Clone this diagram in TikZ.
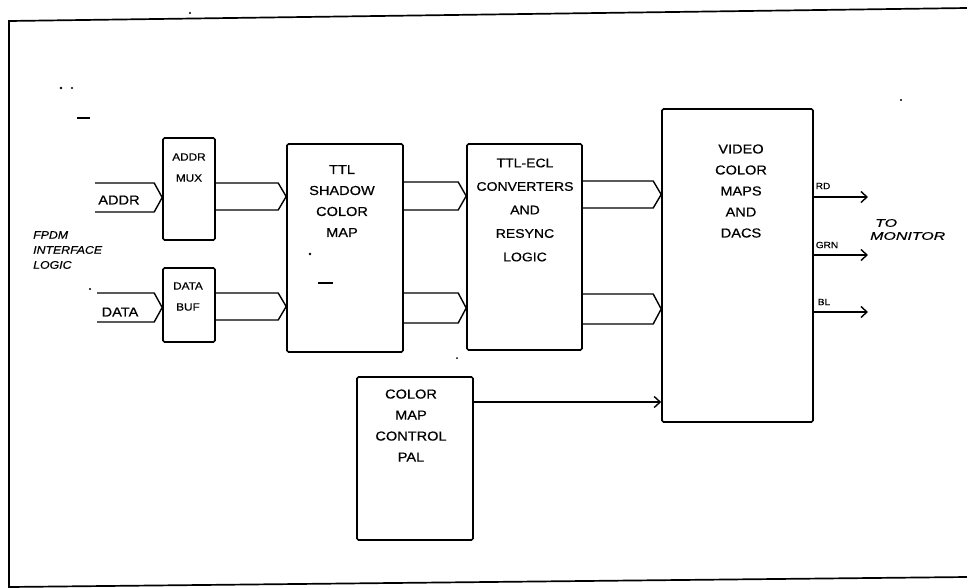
\documentclass[tikz,border=0pt]{standalone}
\usepackage{fontspec}
\setmainfont[FakeStretch=1.12,FakeBold=0.6]{Liberation Sans}
\newfontfamily\widefont[FakeStretch=1.45,FakeBold=0.6]{Liberation Sans}
\usetikzlibrary{arrows.meta,calc}
\tikzset{
  blk/.style={draw, line width=1.6pt, rounded corners=1.5pt, inner sep=0pt},
  txt/.style={font=\fontsize{13}{21}\selectfont, align=center, inner sep=0pt},
  smalltxt/.style={font=\fontsize{10.5}{21}\selectfont, align=center, inner sep=0pt},
  sigtxt/.style={font=\fontsize{9}{10}\selectfont, inner sep=0pt},
  bus/.style={line width=1.4pt, line join=round, to path={
     ($(\tikztostart)+(0,-#1)$) -- ($(\tikztotarget)+(-8,-#1)$) -- (\tikztotarget)
     ($(\tikztostart)+(0,#1)$) -- ($(\tikztotarget)+(-8,#1)$) -- (\tikztotarget)}},
  arr/.style={line width=1.4pt, -{Straight Barb[length=6pt,width=11pt,line width=1.4pt]}},
  frame/.style={line width=1.7pt}
}
\begin{document}
\begin{tikzpicture}[x=1pt,y=-1pt]
\useasboundingbox (0,0) rectangle (967,587);
% outer frame (open on the right)
\draw[frame] (967,8) -- (9,21) -- (9,587) -- (967,577);

% blocks
\node[blk, minimum width=52pt, minimum height=102pt] (mux) at (189,189) {};
\node[blk, minimum width=52pt, minimum height=74pt] (buf) at (189,305) {};
\node[blk, minimum width=116pt, minimum height=208pt] (ttl) at (345,248) {};
\node[blk, minimum width=115pt, minimum height=206pt] (ecl) at (524.5,247) {};
\node[blk, minimum width=151pt, minimum height=313pt] (video) at (737.5,265.5) {};
\node[blk, minimum width=116pt, minimum height=163pt] (pal) at (415,458.5) {};

% block texts
\node[smalltxt] (muxt) at (189,167.5) {ADDR\\MUX};
\node[smalltxt] (buft) at (188,296.5) {DATA\\BUF};
\node[txt] (ttlt) at (342,201) {TTL\\SHADOW\\COLOR\\MAP};
\node[txt, font=\fontsize{12.5}{23.5}\selectfont] (eclt) at (525,210) {TTL-ECL\\CONVERTERS\\AND\\RESYNC\\LOGIC};
\node[txt] (videot) at (741,191) {VIDEO\\COLOR\\MAPS\\AND\\DACS};
\node[txt] (palt) at (411,425.5) {COLOR\\MAP\\CONTROL\\PAL};

% outside labels
\node[txt, font=\fontsize{13}{15}\selectfont] (addrl) at (119,200) {ADDR};
\node[txt, font=\fontsize{13}{15}\selectfont] (datal) at (120,312) {DATA};
\node[inner sep=0pt, anchor=west, align=left, font=\fontsize{11}{15}\selectfont\itshape] (fpdm) at (33,250) {FPDM\\INTERFACE\\LOGIC};
\node[inner sep=0pt, anchor=west, align=left, font=\widefont\fontsize{11}{13}\selectfont\itshape] (tomon) at (870,229.5) {\hspace*{5pt}TO\\MONITOR};
\node[sigtxt] (rdl) at (823,186) {RD};
\node[sigtxt] (grnl) at (827,245) {GRN};
\node[sigtxt] (bll) at (824,302) {BL};

% free ends
\coordinate (addrin) at (95,197.5);
\coordinate (datain) at (97,307.5);
\coordinate (rdout) at (868,197);
\coordinate (grnout) at (868,255);
\coordinate (blout) at (868,312);

% bus connectors
\coordinate (b1e) at (addrin -| mux.west);
\draw[bus=14.5] (addrin) to (b1e);
\coordinate (b2e) at (datain -| buf.west);
\draw[bus=14.5] (datain) to (b2e);
\coordinate (b3s) at ([yshift=-7.5pt]mux.east);
\coordinate (b3e) at (b3s -| ttl.west);
\draw[bus=13.5] (b3s) to (b3e);
\coordinate (b4s) at ([yshift=-1.5pt]buf.east);
\coordinate (b4e) at (b4s -| ttl.west);
\draw[bus=13.5] (b4s) to (b4e);
\coordinate (b5s) at ([yshift=52pt]ttl.east);
\coordinate (b5e) at (b5s -| ecl.west);
\draw[bus=14] (b5s) to (b5e);
\coordinate (b6s) at ([yshift=-60pt]ttl.east);
\coordinate (b6e) at (b6s -| ecl.west);
\draw[bus=15] (b6s) to (b6e);
\coordinate (b7s) at ([yshift=52.5pt]ecl.east);
\coordinate (b7e) at (b7s -| video.west);
\draw[bus=13.5] (b7s) to (b7e);
\coordinate (b8s) at ([yshift=-62pt]ecl.east);
\coordinate (b8e) at (b8s -| video.west);
\draw[bus=15] (b8s) to (b8e);

% single arrows
\coordinate (p1) at ([yshift=56.5pt]pal.east);
\draw[arr] (p1) -- (p1 -| video.west);
\draw[arr] (rdout -| video.east) -- (rdout);
\draw[arr] (grnout -| video.east) -- (grnout);
\draw[arr] (blout -| video.east) -- (blout);

% stray marks of the original sheet
\fill (61,88) circle (1.4);
\fill (72,88) circle (1.2);
\draw[line width=1.8pt] (77,118) -- (90,118);
\fill (190,13) circle (1.1);
\fill (90,289) circle (1.1);
\fill (310,254) circle (1.3);
\draw[line width=1.8pt] (318,283) -- (333,283);
\fill (457,358) circle (1.0);
\fill (901,100) circle (1.2);
\end{tikzpicture}
\end{document}
